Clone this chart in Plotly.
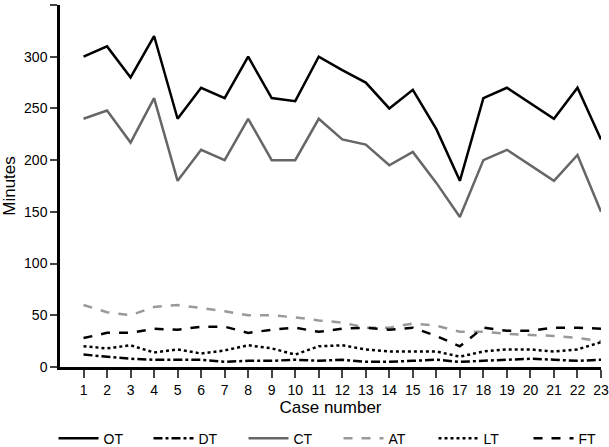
import plotly.graph_objects as go

cases = list(range(1, 24))
OT = [300, 310, 280, 320, 240, 270, 260, 300, 260, 257, 300, 287, 275, 250, 268, 230, 180, 260, 270, 255, 240, 270, 220]
DT = [12, 10, 8, 7, 7, 7, 5, 6, 6, 7, 6, 7, 5, 5, 6, 7, 5, 6, 7, 8, 7, 6, 7]
CT = [240, 248, 217, 260, 180, 210, 200, 240, 200, 200, 240, 220, 215, 195, 208, 178, 145, 200, 210, 195, 180, 205, 150]
AT = [60, 53, 50, 58, 60, 57, 54, 50, 50, 48, 45, 43, 38, 38, 42, 40, 34, 34, 32, 31, 30, 28, 25]
LT = [20, 18, 21, 14, 17, 13, 16, 21, 18, 12, 20, 21, 17, 15, 15, 15, 10, 15, 17, 17, 15, 17, 24]
FT = [28, 33, 33, 37, 36, 39, 39, 33, 36, 38, 34, 37, 38, 36, 38, 30, 20, 38, 35, 35, 38, 38, 37]

series = [
    ("OT", OT, "#000000", "solid"),
    ("DT", DT, "#000000", "dashdot"),
    ("CT", CT, "#666666", "solid"),
    ("AT", AT, "#999999", "dash"),
    ("LT", LT, "#000000", "dot"),
    ("FT", FT, "#000000", "dash"),
]

fig = go.Figure()
for name, vals, color, dash in series:
    fig.add_trace(go.Scatter(x=cases, y=vals, mode="lines", name=name,
                             line=dict(color=color, width=2.5, dash=dash)))

fig.update_layout(
    width=609, height=447,
    margin=dict(l=60, r=8, t=5, b=80, autoexpand=False),
    plot_bgcolor="white", paper_bgcolor="white",
    font=dict(family="Liberation Sans, Arial, sans-serif", size=14, color="black"),
    showlegend=True,
    legend=dict(orientation="h", x=-0.012, xanchor="left", y=-0.198, yanchor="middle",
                font=dict(size=14), itemwidth=40, entrywidth=40, entrywidthmode="pixels"),
    xaxis=dict(range=[0, 23], tickvals=cases, ticks="outside", ticklen=8, tickwidth=2,
               showline=True, linewidth=2.5, linecolor="black", showgrid=False,
               zeroline=False, title=dict(text="Case number", standoff=4)),
    yaxis=dict(range=[0, 350], dtick=50, ticks="outside", ticklen=7, tickwidth=2,
               showline=True, linewidth=2.5, linecolor="black", showgrid=False,
               zeroline=False, title=dict(text="Minutes", standoff=8)),
)

fig.write_html("out.html", config={"displayModeBar": False},
               post_script="document.body.style.margin='0';document.body.style.overflow='hidden';")
